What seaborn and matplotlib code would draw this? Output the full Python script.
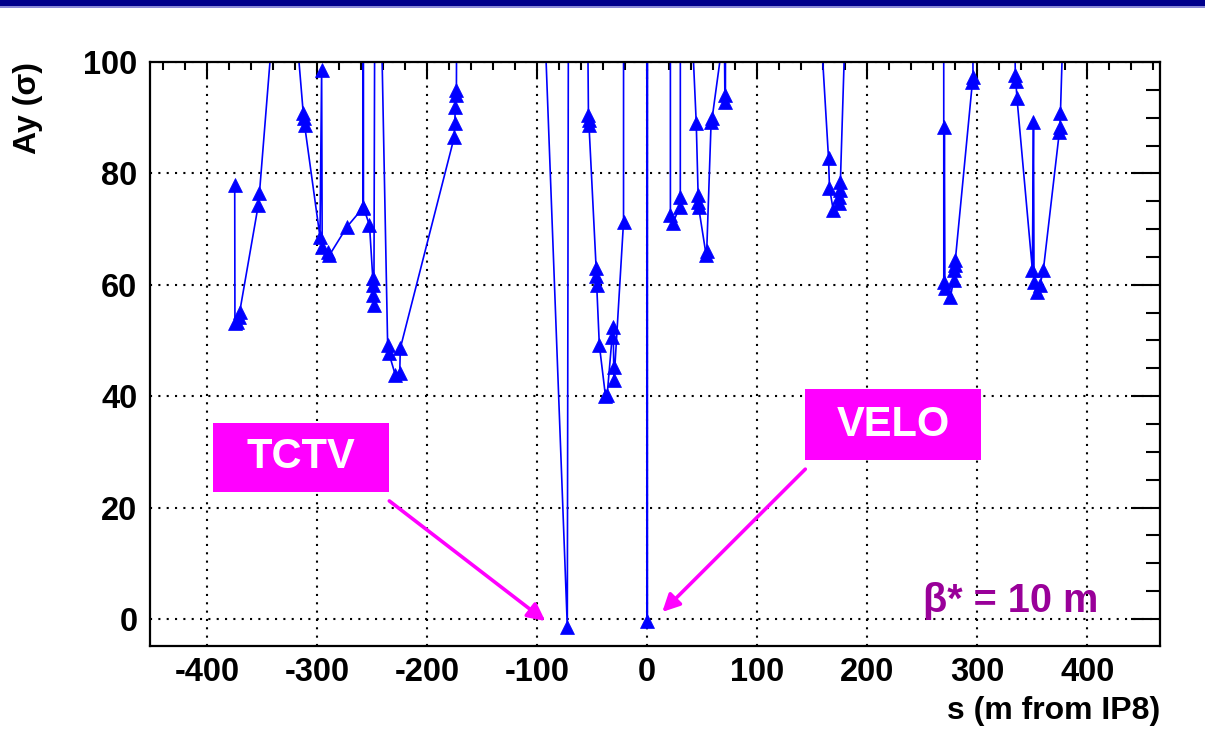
import matplotlib
matplotlib.use("Agg")
import matplotlib.pyplot as plt
import matplotlib.patches as mpatches
import seaborn as sns
import pandas as pd

# ---- data: s position (m from IP8) and vertical aperture Ay (sigma) ----
s_pos = [
    -375.0, -374.8, -372.5, -371.0, -370.5, -353.6, -352.5, -330.0,
    -312.7, -312.3, -311.5, -297.5, -296.0, -295.5, -290.0, -289.0, -273.0,
    -258.5, -258.2, -258.0, -252.5, -249.5, -249.2, -249.0, -248.5, -247.0,
    -236.0, -235.0, -229.0, -225.0, -224.5, -175.5, -175.0, -174.5, -174.0, -173.5,
    -170.0, -120.0, -95.0, -72.7, -70.0, -58.0,
    -53.5, -53.2, -53.0, -46.5, -46.3, -46.0, -43.6, -38.0, -36.5, -32.0, -31.0,
    -30.5, -30.2, -21.6, -21.3,
    -1.0, 0.0, 1.0,
    20.5, 21.0, 23.3, 29.5, 30.0, 30.5, 41.0,
    44.5, 46.2, 46.4, 46.6, 53.5, 54.0, 58.0, 59.0, 70.0, 70.5, 71.0, 71.5,
    120.0, 158.0,
    164.7, 165.6, 169.0, 174.0, 174.5, 175.0, 175.5, 182.0,
    220.0, 268.0,
    269.5, 270.0, 270.5, 275.5, 278.5, 279.0, 279.5, 280.0, 295.5, 296.0, 296.5,
    333.0, 334.5, 335.0, 336.0, 350.0, 351.0, 351.5, 354.5, 357.0, 360.0,
    374.5, 375.0, 375.5, 380.0,
]
ay_sigma = [
    77.9, 53.1, 53.3, 54.2, 55.1, 74.3, 76.5, 132.0,
    90.8, 90.0, 88.7, 68.6, 98.6, 66.8, 65.9, 65.3, 70.4,
    73.8, 1000.0, 73.9, 70.7, 61.2, 60.0, 58.2, 56.4, 161.0,
    49.2, 47.8, 43.8, 44.2, 48.6, 86.5, 89.0, 91.9, 94.0, 95.0,
    300.0, 400.0, 116.0, -1.4, 300.0, 200.0,
    90.5, 89.6, 88.7, 63.0, 61.5, 60.0, 49.2, 40.0, 40.2, 50.6, 52.4,
    45.2, 42.9, 71.3, 500.0,
    500.0, -0.4, 500.0,
    1000.0, 72.5, 71.1, 74.0, 75.8, 500.0, 104.4,
    89.0, 76.1, 74.9, 74.0, 65.3, 66.0, 89.2, 90.0, 106.0, 94.1, 92.8, 200.0,
    300.0, 105.0,
    82.8, 77.4, 73.4, 74.7, 75.8, 77.0, 78.5, 120.0,
    300.0, 1000.0,
    60.5, 88.3, 59.4, 57.8, 60.9, 62.7, 63.6, 64.5, 96.4, 97.3, 500.0,
    120.0, 97.7, 96.5, 93.5, 62.7, 89.2, 60.5, 58.7, 60.0, 62.7,
    87.4, 88.3, 90.8, 120.0,
]
x_ticks = [-400, -300, -200, -100, 0, 100, 200, 300, 400]
y_ticks = [0, 20, 40, 60, 80, 100]

# annotation texts
tctv_label = "TCTV"
velo_label = "VELO"
beta_label = "β* = 10 m"
x_title = "s (m from IP8)"
y_title = "Ay (σ)"

df = pd.DataFrame({"s": s_pos, "Ay": ay_sigma})

sns.set_theme(style="white")
plt.rcParams["font.family"] = ["Liberation Sans", "DejaVu Sans"]
plt.rcParams["font.weight"] = "bold"

W, H = 1205, 731
fig = plt.figure(figsize=(W / 100, H / 100), dpi=100)
fig.patch.set_facecolor("white")
ax = fig.add_axes([150 / W, 1 - 646 / H, 1010 / W, 584 / H])
ax.set_facecolor("white")

sns.lineplot(data=df, x="s", y="Ay", sort=False, estimator=None, ax=ax,
             color="#0000ff", linewidth=1.2, marker="^", markersize=10,
             markeredgecolor="#0000ff", markeredgewidth=0.5, zorder=3)

ax.set_xlim(-452, 466)
ax.set_ylim(-4.85, 100)
ax.set_xticks(x_ticks)
ax.set_yticks(y_ticks)
ax.set_xticks([v for v in range(-440, 461, 20) if v % 100 != 0], minor=True)
ax.set_yticks([v for v in range(-0, 101, 5) if v % 20 != 0], minor=True)
ax.set_xticklabels([str(v) for v in x_ticks])
ax.set_yticklabels([str(v) for v in y_ticks])

ax.grid(True, which="major", color="black", linestyle=(0, (1, 3.0)), linewidth=1.5)
ax.set_axisbelow(True)

for sp in ax.spines.values():
    sp.set_visible(True)
    sp.set_color("black")
    sp.set_linewidth(1.6)
    sp.set_zorder(5)

ax.tick_params(axis="both", which="both", direction="in", top=True, right=True,
               colors="black", width=1.5)
ax.tick_params(axis="x", which="major", length=12.5, pad=8, labelsize=23.5)
ax.tick_params(axis="x", which="minor", length=6)
ax.tick_params(axis="y", which="major", length=21, pad=9, labelsize=23.5)
ax.tick_params(axis="y", which="minor", length=10)
for lab in ax.get_xticklabels() + ax.get_yticklabels():
    lab.set_fontweight("bold")

ax.set_xlabel("")
ax.set_ylabel("")
fig.text(1160 / W, 1 - 696 / H, x_title, ha="right", va="top",
         fontsize=23, fontweight="bold", color="black")
fig.text(28 / W, 1 - 62 / H, y_title, ha="center", va="top", rotation=90,
         fontsize=23, fontweight="bold", color="black")

magenta = "#ff00ff"
# label boxes
ax.add_patch(mpatches.Rectangle((-394.5, 22.8), 160.0, 12.4, facecolor=magenta,
                                edgecolor="none", zorder=6))
ax.text(-314.5, 29.0, tctv_label, ha="center", va="center", color="white",
        fontsize=30, fontweight="bold", zorder=7)
ax.add_patch(mpatches.Rectangle((143.6, 28.5), 160.0, 12.8, facecolor=magenta,
                                edgecolor="none", zorder=6))
ax.text(223.6, 34.9, velo_label, ha="center", va="center", color="white",
        fontsize=30, fontweight="bold", zorder=7)

arrow_kw = dict(arrowstyle="-|>", color=magenta, lw=2.6, mutation_scale=26,
                shrinkA=0, shrinkB=0)
ax.annotate("", xy=(-92.7, -0.36), xytext=(-234.5, 21.2),
            arrowprops=arrow_kw, zorder=7)
ax.annotate("", xy=(13.6, 1.26), xytext=(143.6, 26.9),
            arrowprops=arrow_kw, zorder=7)

ax.text(410, 1.3, beta_label, ha="right", va="baseline", color="#990099",
        fontsize=28.5, fontweight="bold", zorder=7)

# top banner
fig.patches.append(mpatches.Rectangle((0, 1 - 6 / H), 1, 6 / H, transform=fig.transFigure,
                                      facecolor="#00008c", edgecolor="none", zorder=10))
fig.patches.append(mpatches.Rectangle((0, 1 - 8 / H), 1, 2 / H, transform=fig.transFigure,
                                      facecolor="#8a8ad8", edgecolor="none", zorder=10))

fig.savefig("out.png", dpi=100, facecolor="white")
